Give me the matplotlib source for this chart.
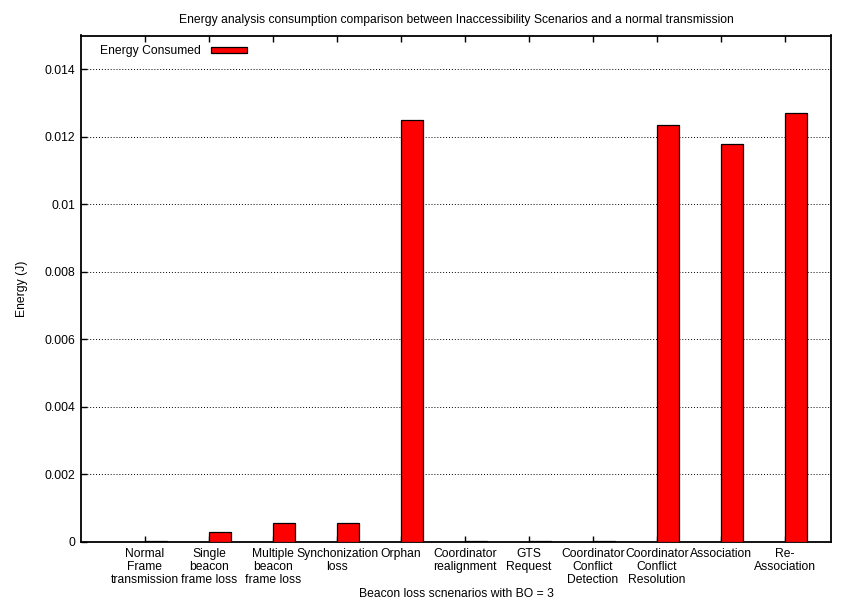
#!/usr/bin/env python3
"""Energy consumption of the inaccessibility scenarios, gnuplot-style bars."""

import matplotlib
matplotlib.use('Agg')
import matplotlib.pyplot as plt
import numpy as np

plt.rcParams['font.family'] = ['Liberation Sans', 'DejaVu Sans']

# Data
scenarios = [
    'Normal\nFrame\ntransmission',
    'Single\nbeacon\nframe loss',
    'Multiple\nbeacon\nframe loss',
    'Synchonization\nloss',
    'Orphan',
    'Coordinator\nrealignment',
    'GTS\nRequest',
    'Coordinator\nConflict\nDetection',
    'Coordinator\nConflict\nResolution',
    'Association',
    'Re-\nAssociation',
]
energy = [0.00004, 0.000284, 0.000563, 0.000563, 0.012495, 0.00004,
          0.00002, 0.00002, 0.012347, 0.011784, 0.012702]
y_ticks = [0, 0.002, 0.004, 0.006, 0.008, 0.01, 0.012, 0.014]
y_tick_labels = ['0', '0.002', '0.004', '0.006', '0.008', '0.01', '0.012', '0.014']

FS = 8.7

fig = plt.figure(figsize=(8.41, 6.04), dpi=100)
ax = fig.add_axes([81 / 841, 1 - 542 / 604, 750 / 841, (542 - 35.5) / 604])

x = np.arange(len(scenarios))
ax.bar(x, energy, width=0.34, align='edge', color='#ff0000',
       edgecolor='black', linewidth=0.9, label='Energy Consumed', zorder=3)

ax.set_xlim(-1, 10.72)
ax.set_ylim(0, 0.015)
ax.set_xticks(x)
ax.set_xticklabels(scenarios, fontsize=FS, linespacing=1.12)
ax.set_yticks(y_ticks)
ax.set_yticklabels(y_tick_labels, fontsize=FS)

# dotted grid at the y ticks only
for yv in y_ticks[1:]:
    ax.axhline(yv, color='black', linestyle=(0, (1, 2)), linewidth=0.7, zorder=1)

# gnuplot style: inward ticks, x ticks mirrored on top, none on the right
ax.tick_params(direction='in', length=4.5, width=1, top=True, right=False,
               pad=4, colors='black')
for sp in ax.spines.values():
    sp.set_linewidth(1.3)

ax.set_title('Energy analysis consumption comparison between Inaccessibility Scenarios and a normal transmission',
             fontsize=FS, pad=9)
ax.set_xlabel('Beacon loss scnenarios with BO = 3', fontsize=FS, labelpad=2)
ax.set_ylabel('Energy (J)', fontsize=FS, labelpad=12)

ax.legend(loc='upper left', bbox_to_anchor=(0.013, 1.0), frameon=False,
          markerfirst=False, fontsize=FS, handlelength=3.0, handleheight=0.45,
          handletextpad=0.8, borderaxespad=0.4)

fig.savefig('out.png', dpi=100)
plt.close()
